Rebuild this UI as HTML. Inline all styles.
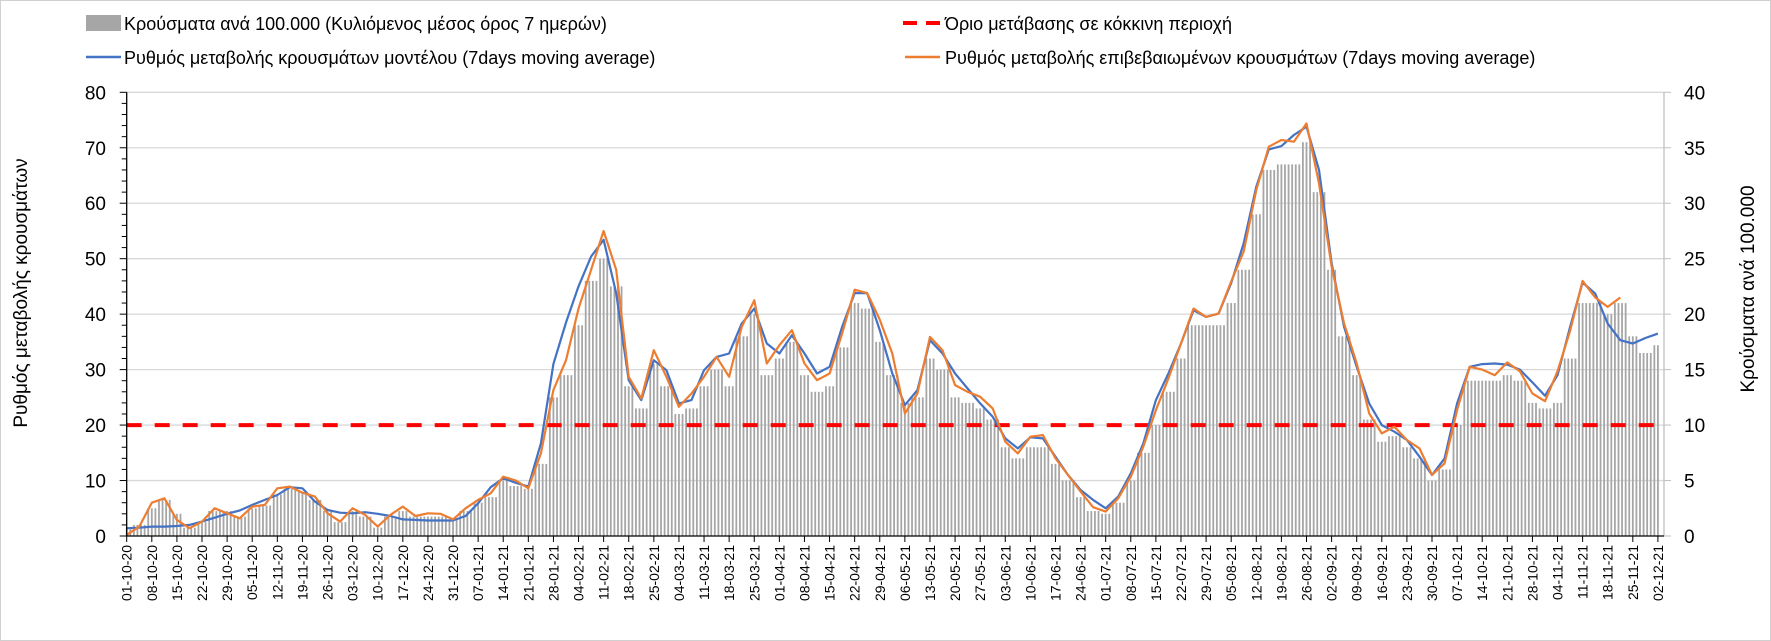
<!DOCTYPE html>
<html><head><meta charset="utf-8">
<style>
html,body{margin:0;padding:0;background:#fff;}
body{width:1771px;height:641px;overflow:hidden;position:relative;font-family:"Liberation Sans",sans-serif;}
#frame{position:absolute;left:0;top:0;width:1769px;height:639px;border:1px solid #d0d0d0;}
svg{position:absolute;left:0;top:0;}
</style></head>
<body>
<div id="frame"></div>
<svg id="chart" width="1771" height="641" font-family="Liberation Sans, sans-serif">
  <g id="legend">
    <g>
      <rect x="86" y="15" width="35" height="16" fill="#a6a6a6"></rect>
      <text x="124" y="30" font-size="18" fill="#000">Κρούσματα ανά 100.000 (Κυλιόμενος μέσος όρος 7 ημερών)</text>
    </g>
    <g>
      <line x1="86" y1="57" x2="121" y2="57" stroke="#4472c4" stroke-width="2.5"></line>
      <text x="124" y="64" font-size="18" fill="#000">Ρυθμός μεταβολής κρουσμάτων μοντέλου (7days moving average)</text>
    </g>
    <g>
      <line x1="903" y1="23" x2="940" y2="23" stroke="#ff0000" stroke-width="4" stroke-dasharray="14,9"></line>
      <text x="945" y="30" font-size="18" fill="#000">Όριο μετάβασης σε κόκκινη περιοχή</text>
    </g>
    <g>
      <line x1="905" y1="57" x2="940" y2="57" stroke="#ed7d31" stroke-width="2.5"></line>
      <text x="945" y="64" font-size="18" fill="#000">Ρυθμός μεταβολής επιβεβαιωμένων κρουσμάτων (7days moving average)</text>
    </g>
  </g>
  <text x="0" y="0" font-size="19" fill="#000" text-anchor="middle" transform="translate(27,293) rotate(-90)">Ρυθμός μεταβολής κρουσμάτων</text>
  <text x="0" y="0" font-size="19" fill="#000" text-anchor="middle" transform="translate(1754,289) rotate(-90)">Κρούσματα ανά 100.000</text>
</svg>
<script>
// half-weekly samples starting 01-10-20 (index k = day 3.5k)
const modelRate = [1.4,1.5,1.7,1.7,1.8,2.0,2.6,3.3,4.0,4.6,5.6,6.5,7.4,8.8,8.6,6.2,4.7,4.2,4.1,4.3,4.0,3.6,3.0,2.9,2.8,2.8,2.8,3.6,5.9,8.8,10.4,9.6,8.9,16.7,31,38.5,45,50.4,53.4,43.8,28.1,24.5,31.7,29.9,23.9,24.5,29.9,32.3,32.9,38.3,41.0,34.7,32.9,36.2,32.9,29.3,30.5,37.7,43.8,43.8,37.1,29.3,23.6,26.3,35.3,32.9,29.3,26.6,23.9,21.5,17.6,15.8,17.8,17.6,14.3,11.0,8.3,6.5,5.0,7.1,11.3,16.7,24.5,29.3,34.7,40.7,39.5,40.1,45.6,52.8,63.0,69.7,70.3,72.3,73.8,66.0,49.2,37.7,30.5,23.9,20.0,18.8,17.3,14.3,11.0,14.0,23.9,30.5,31.0,31.1,30.9,30.0,27.7,25.3,29.0,37.7,45.7,43.7,38.3,35.3,34.7,35.7,36.5];
const confirmedRate = [0.2,1.7,6.0,6.8,2.9,1.4,2.6,5.0,4.1,3.2,5.3,5.6,8.6,8.9,7.8,7.1,4.1,2.6,5.0,3.8,1.7,3.8,5.3,3.6,4.1,4.0,3.0,5.0,6.5,7.7,10.7,10.0,8.6,14.9,26.3,31.7,41,48.0,55,48.0,28.7,24.8,33.5,28.7,23.3,25.7,28.7,32.3,28.7,37.7,42.5,31.1,34.4,37.1,31.1,28.1,29.3,36.5,44.4,43.8,39.0,32.9,22.1,25.7,35.9,33.5,27.2,26.0,25.1,23.0,17.0,14.9,17.9,18.2,14.0,11.0,8.0,5.2,4.4,6.8,10.7,16.1,22.7,28.4,34.7,41.0,39.5,40.1,45.9,51.3,62.4,70.2,71.4,71.1,74.4,63.6,48.6,38.3,31.1,22.1,18.5,19.7,17.3,15.8,11.0,13.1,22.7,30.5,30.0,29.0,31.3,29.7,25.7,24.3,29.7,37.0,46.0,43.0,41.3,43.0,null,null,null];
const casesPer100k = [0.75,1,2.5,3.25,2,0.75,1.25,2.25,2.25,1.75,2.5,2.75,3.75,4.25,4,3.25,2.25,1.25,2.25,1.75,0.75,1.75,2.25,1.75,1.75,1.75,1.5,2.25,3,3.5,5,4.5,4.25,6.5,12.5,14.5,19,23,25,22.5,13.5,11.5,15.5,13.5,11,11.5,13.5,15,13.5,18,20,14.5,16,17.5,14.5,13,13.5,17,21,20.5,17.5,14.5,12,12.5,16,15,12.5,12,11.5,10.5,8,7,8,8,6.5,5,3.5,2.25,2,3,5,7.5,10,13,16,19,19,19,21,24,29,33,33.5,33.5,35.5,31,24,18,14.5,10.5,8.5,9,8,7,5,6,10,14,14,14,14.5,14,12,11.5,12,16,21,21,20,21,18,16.5,17.2];
const threshold = 20;
const leftTicks = [0,10,20,30,40,50,60,70,80];
const rightTicks = [0,5,10,15,20,25,30,35,40];
const dateLabels = ["01-10-20","08-10-20","15-10-20","22-10-20","29-10-20","05-11-20","12-11-20","19-11-20","26-11-20","03-12-20","10-12-20","17-12-20","24-12-20","31-12-20","07-01-21","14-01-21","21-01-21","28-01-21","04-02-21","11-02-21","18-02-21","25-02-21","04-03-21","11-03-21","18-03-21","25-03-21","01-04-21","08-04-21","15-04-21","22-04-21","29-04-21","06-05-21","13-05-21","20-05-21","27-05-21","03-06-21","10-06-21","17-06-21","24-06-21","01-07-21","08-07-21","15-07-21","22-07-21","29-07-21","05-08-21","12-08-21","19-08-21","26-08-21","02-09-21","09-09-21","16-09-21","23-09-21","30-09-21","07-10-21","14-10-21","21-10-21","28-10-21","04-11-21","11-11-21","18-11-21","25-11-21","02-12-21"];

const NS = "http://www.w3.org/2000/svg";
const svg = document.getElementById("chart");
const X0 = 126.7, DAYPX = 3.586, Y0 = 536, TOPY = 92.3, RIGHTX = 1664;
const TOTALDAYS = (dateLabels.length - 1) * 7;
const xDay = d => X0 + d * DAYPX;
const yL = v => Y0 - (v / 80) * (Y0 - TOPY);
const yR = v => Y0 - (v / 40) * (Y0 - TOPY);
function mk(tag, attrs, parent) {
  const e = document.createElementNS(NS, tag);
  for (const k in attrs) e.setAttribute(k, attrs[k]);
  (parent || svg).appendChild(e);
  return e;
}
const legend = document.getElementById("legend");

// gridlines
const grid = mk("g", {});


leftTicks.forEach(v => {
  if (v === 0) return;
  const l = mk("line", {x1: X0, x2: RIGHTX, y1: yL(v), y2: yL(v), stroke: "#d9d9d9", "stroke-width": 1.3}, grid);
  
  
});

// bars (daily, from half-weekly samples)
const bars = mk("g", {fill: "#a6a6a6"});


for (let d = 0; d <= TOTALDAYS; d++) {
  const v = casesPer100k[Math.min(casesPer100k.length - 1, Math.round(d / 3.5))];
  const r = mk("rect", {x: xDay(d) - 0.9, y: yR(v), width: 1.8, height: Y0 - yR(v)}, bars);
  
  
}

// threshold
const th = mk("line", {x1: X0, x2: xDay(TOTALDAYS) - 4, y1: yL(threshold), y2: yL(threshold), stroke: "#ff0000", "stroke-width": 4, "stroke-dasharray": "15,13"});



function linePath(arr) {
  let d = "", pen = false;
  arr.forEach((v, i) => {
    if (v === null) { pen = false; return; }
    d += (pen ? "L" : "M") + xDay(i * 3.5).toFixed(1) + "," + yL(v).toFixed(1);
    pen = true;
  });
  return d;
}
const blue = mk("path", {d: linePath(modelRate), fill: "none", stroke: "#4472c4", "stroke-width": 2.2, "stroke-linejoin": "round"});


const orange = mk("path", {d: linePath(confirmedRate), fill: "none", stroke: "#ed7d31", "stroke-width": 2.2, "stroke-linejoin": "round"});



// left axis
const la = mk("g", {});


mk("line", {x1: X0, x2: X0, y1: TOPY, y2: Y0, stroke: "#000", "stroke-width": 1.3}, la);
for (let v = 0; v <= 80; v += 2) {
  const major = v % 10 === 0;
  mk("line", {x1: X0 - (major ? 7 : 5), x2: X0, y1: yL(v), y2: yL(v), stroke: "#000", "stroke-width": 1}, la);
}
leftTicks.forEach(v => {
  const t = mk("text", {x: 106, y: yL(v) + 7, "font-size": 19, "text-anchor": "end", fill: "#000"}, la);
  t.textContent = v;
  
  
});

// right axis
const ra = mk("g", {});


mk("line", {x1: RIGHTX, x2: RIGHTX, y1: TOPY, y2: Y0, stroke: "#bfbfbf", "stroke-width": 1.3}, ra);
rightTicks.forEach(v => {
  mk("line", {x1: RIGHTX, x2: RIGHTX + 7, y1: yR(v), y2: yR(v), stroke: "#bfbfbf", "stroke-width": 1}, ra);
  const t = mk("text", {x: 1684, y: yR(v) + 7, "font-size": 19, fill: "#000"}, ra);
  t.textContent = v;
  
  
});

// x axis
const xa = mk("g", {});


mk("line", {x1: X0, x2: RIGHTX, y1: Y0, y2: Y0, stroke: "#000", "stroke-width": 1.3}, xa);
dateLabels.forEach((lab, i) => {
  const x = xDay(i * 7);
  mk("line", {x1: x, x2: x, y1: Y0, y2: Y0 + 6, stroke: "#000", "stroke-width": 1}, xa);
  const t = mk("text", {x: 0, y: 0, "font-size": 14, "text-anchor": "end", fill: "#000", transform: "translate(" + (x + 5).toFixed(1) + "," + (Y0 + 9) + ") rotate(-90)"}, xa);
  t.textContent = lab;
  
  
});
svg.appendChild(legend);
</script>
</body></html>
